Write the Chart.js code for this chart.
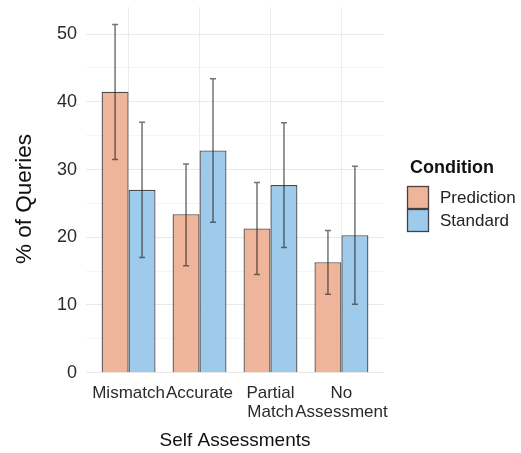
<!DOCTYPE html>
<html>
<head>
<meta charset="utf-8">
<script src="https://cdn.jsdelivr.net/npm/chart.js@4/dist/chart.umd.min.js"></script>
<style>
  html, body { margin: 0; padding: 0; background: #fff; }
  #wrap { width: 521px; height: 453px; }
</style>
</head>
<body>
<div id="wrap"><canvas id="chart" width="521" height="453"></canvas></div>
<script>
// values
const categories = [['Mismatch'], ['Accurate'], ['Partial', 'Match'], ['No', 'Assessment']];
const prediction = [41.5, 23.4, 21.3, 16.3];
const predictionLow = [31.5, 15.8, 14.5, 11.6];
const predictionHigh = [51.4, 30.8, 28.1, 21.0];
const standard = [27.0, 32.8, 27.7, 20.3];
const standardLow = [17.0, 22.2, 18.5, 10.1];
const standardHigh = [37.0, 43.4, 36.9, 30.5];
const yMajor = [0, 10, 20, 30, 40, 50];
const yMinor = [5, 15, 25, 35, 45];

const FONT = "'Liberation Sans', Arial, Helvetica, sans-serif";
const BAR_BORDER = 'rgba(45,45,45,0.85)';

const points = (vals) => vals.map((v, i) => ({ x: i + 1, y: v }));

// error bars (whiskers with small caps)
const errorBars = {
  id: 'errorBars',
  afterDatasetsDraw(chart) {
    const ctx = chart.ctx;
    const y = chart.scales.y;
    chart.data.datasets.forEach((ds, di) => {
      const meta = chart.getDatasetMeta(di);
      meta.data.forEach((bar, i) => {
        const top = y.getPixelForValue(ds.errHigh[i]);
        const bot = y.getPixelForValue(ds.errLow[i]);
        ctx.save();
        ctx.strokeStyle = 'rgba(30,30,30,0.62)';
        ctx.lineWidth = 1.5;
        ctx.beginPath();
        ctx.moveTo(bar.x, top); ctx.lineTo(bar.x, bot);
        ctx.moveTo(bar.x - 3, top); ctx.lineTo(bar.x + 3, top);
        ctx.moveTo(bar.x - 3, bot); ctx.lineTo(bar.x + 3, bot);
        ctx.stroke();
        ctx.restore();
      });
    });
  }
};

// y title + ggplot-like legend on the right
const sideLegend = {
  id: 'sideLegend',
  afterDraw(chart) {
    const ctx = chart.ctx;
    ctx.save();
    ctx.translate(25, 199);
    ctx.rotate(-Math.PI / 2);
    ctx.fillStyle = '#111';
    ctx.font = '22.5px ' + FONT;
    ctx.textAlign = 'center';
    ctx.textBaseline = 'middle';
    ctx.fillText('% of Queries', 0, 0);
    ctx.restore();

    ctx.save();
    ctx.fillStyle = '#111';
    ctx.font = 'bold 18px ' + FONT;
    ctx.textBaseline = 'alphabetic';
    ctx.fillText('Condition', 410, 173);
    ctx.font = '17px ' + FONT;
    ctx.textBaseline = 'middle';
    chart.data.datasets.forEach((ds, i) => {
      const ky = 186 + i * 23;
      ctx.fillStyle = ds.backgroundColor;
      ctx.fillRect(407, ky, 22, 23);
      ctx.strokeStyle = BAR_BORDER;
      ctx.lineWidth = 1.3;
      ctx.strokeRect(407.5, ky + 0.5, 21, 22);
      ctx.fillStyle = '#222';
      ctx.fillText(ds.label, 440, ky + 12);
    });
    ctx.restore();
  }
};

new Chart(document.getElementById('chart'), {
  type: 'bar',
  data: {
    datasets: [
      { label: 'Prediction', data: points(prediction), errLow: predictionLow, errHigh: predictionHigh,
        backgroundColor: '#eeb59b', borderColor: BAR_BORDER, borderWidth: 1.3 },
      { label: 'Standard', data: points(standard), errLow: standardLow, errHigh: standardHigh,
        backgroundColor: '#9ecbec', borderColor: BAR_BORDER, borderWidth: 1.3 }
    ]
  },
  options: {
    responsive: false,
    animation: false,
    categoryPercentage: 0.76,
    barPercentage: 1.0,
    layout: { padding: { left: 8, right: 137, top: 7, bottom: 0 } },
    plugins: { legend: { display: false }, tooltip: { enabled: false } },
    scales: {
      x: {
        type: 'linear',
        min: 0.4, max: 4.6,
        offset: false,
        afterBuildTicks: (s) => { s.ticks = categories.map((c, i) => ({ value: i + 1 })); },
        afterFit: (s) => { s.height = 453 - 372.7; },
        ticks: {
          callback: (v) => categories[Math.round(v) - 1],
          color: '#2a2a2a',
          font: { family: FONT, size: 17, lineHeight: 1.12 },
          padding: 11,
          maxRotation: 0,
          autoSkip: false
        },
        grid: { color: '#ececec', lineWidth: 1, drawTicks: false, offset: false },
        border: { display: false },
        title: {
          display: true, text: 'Self Assessments', color: '#111',
          font: { family: FONT, size: 19 }, padding: { top: 4, bottom: 1 }
        }
      },
      y: {
        min: 0, max: 54,
        afterBuildTicks: (s) => {
          s.ticks = yMajor.concat(yMinor).sort((a, b) => a - b).map(v => ({ value: v }));
        },
        afterFit: (s) => { s.width = 78; s.paddingTop = 0; s.paddingBottom = 0; },
        ticks: {
          callback: (v) => yMajor.includes(v) ? v : '',
          color: '#2a2a2a',
          font: { family: FONT, size: 18 },
          padding: 9
        },
        grid: {
          color: (c) => (c.tick && yMajor.includes(c.tick.value)) ? '#e9e9e9' : '#f5f5f5',
          lineWidth: 1,
          drawTicks: false
        },
        border: { display: false }
      }
    }
  },
  plugins: [errorBars, sideLegend]
});
</script>
</body>
</html>
